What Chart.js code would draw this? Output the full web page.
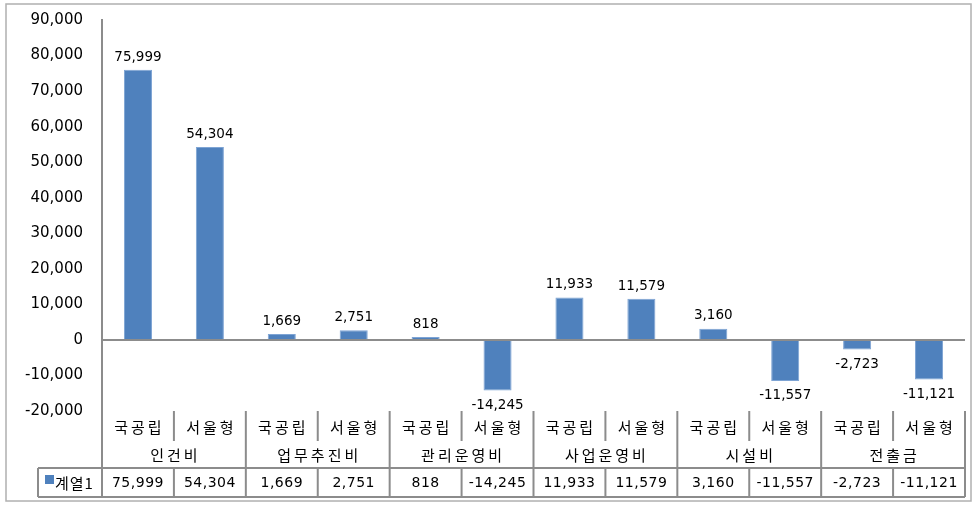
<!DOCTYPE html>
<html>
<head>
<meta charset="utf-8">
<script src="https://cdn.jsdelivr.net/npm/chart.js@4.4.1/dist/chart.umd.min.js"></script>
<style>
  html, body { margin: 0; padding: 0; background: #fff; }
  #wrap { width: 975px; height: 506px; position: relative; }
</style>
</head>
<body>
<div id="wrap"><canvas id="myChart"></canvas></div>
<script>
const groups = ['인건비', '업무추진비', '관리운영비', '사업운영비', '시설비', '전출금'];
const subLabels = ['국공립', '서울형'];
const seriesName = '계열1';
const values = [75999, 54304, 1669, 2751, 818, -14245, 11933, 11579, 3160, -11557, -2723, -11121];
const yTicks = [90000, 80000, 70000, 60000, 50000, 40000, 30000, 20000, 10000, 0, -10000, -20000];

const categories = [];
groups.forEach(g => subLabels.forEach(s => categories.push(g + ' ' + s)));

const fmt = v => v.toLocaleString('en-US');
const FONT = '"DejaVu Sans", "Noto Sans CJK KR", sans-serif';
const KFONT = '"Noto Sans CJK KR", "DejaVu Sans", sans-serif';
const LINE = '#8c8c8c';

// value labels over / under each bar
const valueLabels = {
    id: 'valueLabels',
    afterDatasetsDraw(chart) {
        const ctx = chart.ctx;
        const meta = chart.getDatasetMeta(0);
        ctx.save();
        ctx.font = '13.5px ' + FONT;
        ctx.fillStyle = '#000';
        ctx.textAlign = 'center';
        meta.data.forEach((bar, i) => {
            const v = values[i];
            if (v >= 0) {
                ctx.textBaseline = 'bottom';
                ctx.fillText(fmt(v), bar.x, bar.y - 6);
            } else {
                ctx.textBaseline = 'top';
                ctx.fillText(fmt(v), bar.x, bar.y + 8);
            }
        });
        ctx.restore();
    }
};

// data table under the plot (like the Excel one)
const dataTable = {
    id: 'dataTable',
    afterDraw(chart) {
        const ctx = chart.ctx;
        const x = chart.scales.x;
        const area = chart.chartArea;
        const half = (x.getPixelForValue(1) - x.getPixelForValue(0)) / 2;
        const top = area.bottom;
        const r1 = top + 30, r2 = top + 57, r3 = top + 86;
        const legLeft = 38;

        ctx.save();
        ctx.strokeStyle = LINE;
        ctx.lineWidth = 2;
        ctx.beginPath();
        ctx.moveTo(legLeft, r2); ctx.lineTo(area.right, r2);
        ctx.moveTo(legLeft, r3); ctx.lineTo(area.right, r3);
        ctx.moveTo(legLeft, r2); ctx.lineTo(legLeft, r3);
        ctx.moveTo(area.left, top); ctx.lineTo(area.left, r3);
        for (let i = 0; i < categories.length; i++) {
            const right = x.getPixelForValue(i) + half;
            const groupEnd = i % 2 === 1;
            ctx.moveTo(right, top);
            ctx.lineTo(right, groupEnd ? r3 : r1);
            ctx.moveTo(right, r2);
            ctx.lineTo(right, r3);
        }
        ctx.stroke();

        ctx.fillStyle = '#000';
        ctx.textAlign = 'center';
        ctx.textBaseline = 'middle';
        ctx.font = '15px ' + KFONT;
        ctx.letterSpacing = '3px';
        categories.forEach((c, i) => {
            ctx.fillText(subLabels[i % 2], x.getPixelForValue(i) + 1.5, (top + r1) / 2 + 1);
        });
        groups.forEach((g, gi) => {
            const cx = (x.getPixelForValue(gi * 2) + x.getPixelForValue(gi * 2 + 1)) / 2;
            ctx.fillText(g, cx + 1.5, (r1 + r2) / 2 + 1);
        });
        ctx.letterSpacing = '0.5px';
        ctx.font = '14px ' + FONT;
        categories.forEach((c, i) => {
            ctx.fillText(fmt(values[i]), x.getPixelForValue(i), (r2 + r3) / 2 + 1);
        });

        // legend key
        ctx.fillStyle = '#4f81bd';
        ctx.fillRect(legLeft + 7, r2 + 7, 9, 9);
        ctx.fillStyle = '#000';
        ctx.textAlign = 'left';
        ctx.font = '15px ' + KFONT;
        ctx.letterSpacing = '1px';
        ctx.fillText(seriesName, legLeft + 17, (r2 + r3) / 2 + 1);
        ctx.letterSpacing = '0px';

        // outer frame
        ctx.strokeStyle = '#b0b0b0';
        ctx.lineWidth = 1.5;
        ctx.strokeRect(6, 4, 965, 497);
        ctx.restore();
    }
};

const ctx = document.getElementById('myChart').getContext('2d');
new Chart(ctx, {
    type: 'bar',
    data: {
        labels: categories,
        datasets: [{
            label: seriesName,
            data: values,
            backgroundColor: '#4f81bd',
            borderColor: '#7ea4d4',
            borderWidth: 1,
            categoryPercentage: 1,
            barPercentage: 0.39
        }]
    },
    options: {
        responsive: true,
        maintainAspectRatio: false,
        animation: false,
        layout: { padding: { top: 20, right: 10, bottom: 95, left: 0 } },
        plugins: {
            legend: { display: false },
            tooltip: { enabled: false }
        },
        scales: {
            x: { display: false, offset: true },
            y: {
                min: -20000,
                max: 90000,
                afterBuildTicks(scale) {
                    scale.ticks = yTicks.map(v => ({ value: v }));
                },
                afterFit(scale) {
                    scale.width = 102;
                    scale.paddingTop = 0;
                    scale.paddingBottom = 0;
                },
                ticks: {
                    padding: 19,
                    color: '#000',
                    font: { family: FONT, size: 15 },
                    callback: v => fmt(v)
                },
                grid: {
                    drawTicks: false,
                    lineWidth: 2,
                    color: c => (c.tick && c.tick.value === 0 ? LINE : 'transparent')
                },
                border: { color: LINE, width: 2 }
            }
        }
    },
    plugins: [valueLabels, dataTable]
});
</script>
</body>
</html>
